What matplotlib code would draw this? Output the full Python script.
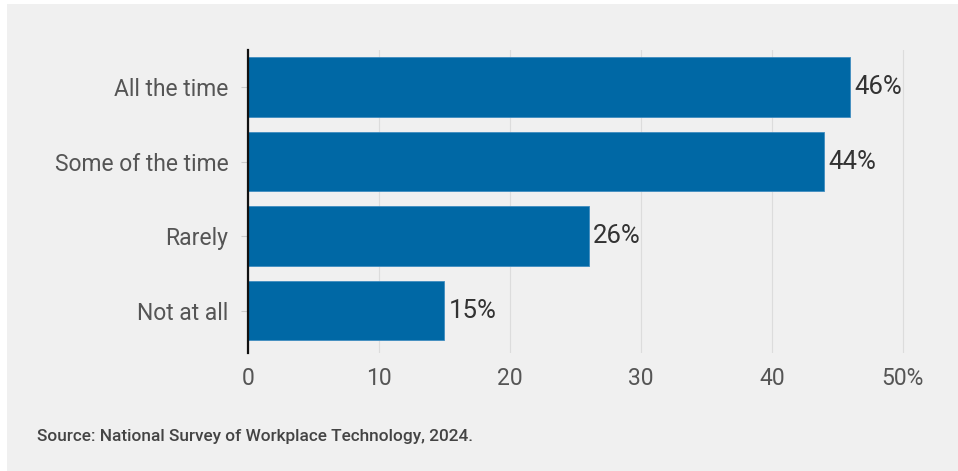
import matplotlib.pyplot as plt
from matplotlib.patches import Rectangle

categories = ['All the time', 'Some of the time', 'Rarely', 'Not at all']
shares = [46, 44, 26, 15]
x_ticks = [0, 10, 20, 30, 40, 50]
x_tick_labels = ['0', '10', '20', '30', '40', '50%']
source = 'Source: National Survey of Workplace Technology, 2024.'

BG = '#f0f0f0'
BAR = '#0068a5'

plt.rcParams['font.family'] = ['Roboto', 'DejaVu Sans']

fig = plt.figure(figsize=(9.58, 4.71), dpi=100, facecolor='white')
# grey panel with a thin white margin on the top and left
fig.patches.append(Rectangle((7 / 958, 0), 1, 1 - 4 / 471,
                             transform=fig.transFigure, facecolor=BG,
                             edgecolor='none', zorder=-1))

ax = fig.add_axes([248 / 958, 1 - 353 / 471, 681 / 958, 303 / 471])
ax.set_facecolor(BG)

pos = range(len(categories))
bars = ax.barh(pos, shares, height=0.8, color=BAR, edgecolor='#3f8cc0',
               linewidth=0.6, zorder=3)

for bar, v in zip(bars, shares):
    ax.text(bar.get_width() + 0.3, bar.get_y() + bar.get_height() / 2,
            f'{v}%', va='center', ha='left', fontsize=18.5, color='#333333')

ax.set_ylim(3.57, -0.5)
ax.set_xlim(0, 52)
ax.set_yticks(list(pos))
ax.set_yticklabels(categories)
ax.set_xticks(x_ticks)
ax.set_xticklabels(x_tick_labels)

ax.tick_params(axis='y', length=5, width=0.8, color='#cccccc', pad=9,
               labelsize=16.5, labelcolor='#555555')
ax.tick_params(axis='x', length=0, pad=10, labelsize=16.5,
               labelcolor='#555555')

ax.grid(axis='x', color='#dcdcdc', linewidth=0.8, zorder=0)
ax.set_axisbelow(True)
for side in ('top', 'right', 'bottom'):
    ax.spines[side].set_visible(False)
ax.spines['left'].set_color('#111111')
ax.spines['left'].set_linewidth(1.6)
ax.spines['left'].set_zorder(4)

fig.text(37 / 958, 1 - 437 / 471, source, ha='left', va='center',
         fontsize=12.4, color='#444444', fontweight='medium')

fig.savefig('out.png', dpi=100, facecolor=fig.get_facecolor())
